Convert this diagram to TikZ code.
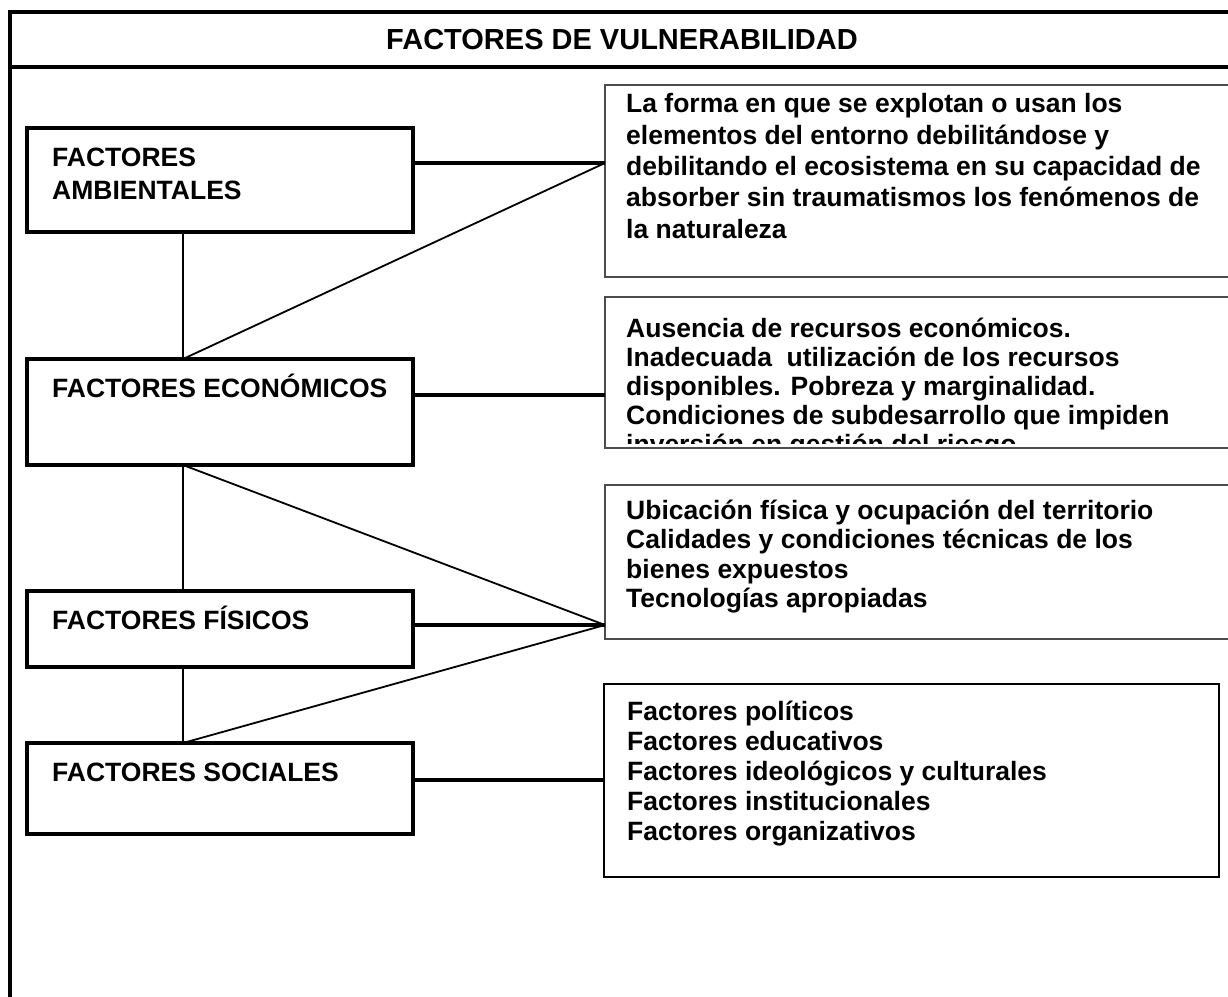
\documentclass[tikz,border=0pt]{standalone}
\usepackage{fontspec}
\setmainfont{Liberation Sans}
\usepackage{tikz}

\begin{document}
\begin{tikzpicture}[x=1pt,y=-1pt,
  factor/.style={rectangle,draw,line width=4pt,minimum width=386pt,inner sep=0pt,outer sep=0pt,anchor=north west},
  detail/.style={rectangle,draw=black!70,line width=1.5pt,minimum width=640pt,inner sep=0pt,outer sep=0pt,anchor=north west},
  txt/.style={anchor=base west,align=left,inner sep=0pt,font=\bfseries\fontsize{26.5}{#1}\selectfont},
  txt/.default=31,
  link/.style={line width=4pt},
  spoke/.style={line width=1.8pt}]
\useasboundingbox (0,0) rectangle (1228,996);
\draw[line width=4pt] (10,1010) -- (10,12) -- (1240,12);
\draw[line width=4pt] (10,67) -- (1240,67);
\node[font=\bfseries\fontsize{29}{34}\selectfont] (title) at (622,40) {FACTORES DE VULNERABILIDAD};

\node[factor,minimum height=104pt] (amb) at (27,128) {};
\node[factor,minimum height=106pt] (eco) at (27,359) {};
\node[factor,minimum height=76pt] (fis) at (27,591) {};
\node[factor,minimum height=91pt] (soc) at (27,743) {};
\node[txt=33] (ambtxt) at ([shift={(25,71.5)}]amb.north west) {FACTORES\\AMBIENTALES};
\node[txt] (ecotxt) at ([shift={(25,38.5)}]eco.north west) {FACTORES ECONÓMICOS};
\node[txt] (fistxt) at ([shift={(25,38.5)}]fis.north west) {FACTORES FÍSICOS};
\node[txt] (soctxt) at ([shift={(25,38.5)}]soc.north west) {FACTORES SOCIALES};

\node[detail,minimum height=192pt] (ramb) at (605,85) {};
\node[detail,minimum height=151pt] (reco) at (605,297) {};
\node[detail,minimum height=154pt] (rfis) at (605,485) {};
\node[rectangle,draw,line width=2.5pt,minimum width=615pt,minimum height=193pt,inner sep=0pt,outer sep=0pt,anchor=north west] (rsoc) at (604,684) {};
\node[txt=31.3] (rambtxt) at ([shift={(21,153)}]ramb.north west) {La forma en que se explotan o usan los\\elementos del entorno debilitándose y\\debilitando el ecosistema en su capacidad de\\absorber sin traumatismos los fenómenos de\\la naturaleza};
\begin{scope}
\clip (reco.north west) rectangle ([yshift=5pt]reco.south east);
\node[txt=29] (recotxt) at ([shift={(21,156)}]reco.north west) {Ausencia de recursos económicos.\\Inadecuada~ utilización de los recursos\\disponibles. Pobreza y marginalidad.\\Condiciones de subdesarrollo que impiden\\inversión en gestión del riesgo};
\end{scope}
\node[txt=29.5] (rfistxt) at ([shift={(21,122.5)}]rfis.north west) {Ubicación física y ocupación del territorio\\Calidades y condiciones técnicas de los\\bienes expuestos\\Tecnologías apropiadas};
\node[txt=30] (rsoctxt) at ([shift={(23,156)}]rsoc.north west) {Factores políticos\\Factores educativos\\Factores ideológicos y culturales\\Factores institucionales\\Factores organizativos};

\coordinate (spine) at (183,0);
\coordinate (hamb) at (ramb.west |- 0,163);
\coordinate (heco) at (reco.west |- 0,395);
\coordinate (hfis) at (rfis.west |- 0,625);
\coordinate (hsoc) at (rsoc.west |- 0,780);

\draw[link] (amb.east |- hamb) -- (hamb);
\draw[spoke] (spine |- amb.south) -- (spine |- eco.north);
\draw[spoke] (hamb) -- (spine |- eco.north);
\draw[link] (eco.east |- heco) -- (heco);
\draw[spoke] (spine |- eco.south) -- (spine |- fis.north);
\draw[spoke] (spine |- eco.south) -- (hfis);
\draw[link] (fis.east |- hfis) -- (hfis);
\draw[spoke] (spine |- fis.south) -- (spine |- soc.north);
\draw[spoke] (spine |- soc.north) -- (hfis);
\draw[link] (soc.east |- hsoc) -- (hsoc);
\end{tikzpicture}
\end{document}
